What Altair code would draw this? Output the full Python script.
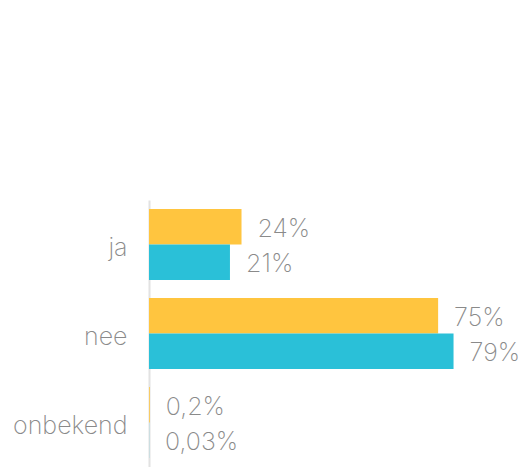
import altair as alt
import pandas as pd

categories = ["ja", "nee", "onbekend"]
series = ["eerste", "tweede"]
values_first = [24, 75, 0.2]
values_second = [21, 79, 0.03]
colors = ["#FFC53F", "#2AC0D8"]

rows = []
for cat, v1, v2 in zip(categories, values_first, values_second):
    for s, v in zip(series, (v1, v2)):
        rows.append({"categorie": cat, "reeks": s, "waarde": v,
                     "label": f"{v:g}".replace(".", ",") + "%"})
df = pd.DataFrame(rows)

FONT = "Inter"
GREY = "#8a8a8a"
SIZE = 25

y_enc = alt.Y("categorie:N", sort=categories, title=None,
              scale=alt.Scale(paddingInner=0.2, paddingOuter=0.1),
              axis=alt.Axis(labelFont=FONT, labelFontSize=SIZE, labelFontWeight=200,
                            labelColor=GREY, labelPadding=22, labelOffset=3, ticks=False,
                            domainColor="#e2e2e2", domainWidth=2))
x_enc = alt.X("waarde:Q", scale=alt.Scale(domain=[0, 96.5]), axis=None)
off = alt.YOffset("reeks:N", sort=series)
col = alt.Color("reeks:N", sort=series, scale=alt.Scale(domain=series, range=colors),
                legend=None)

bars = alt.Chart(df).mark_bar(size=35.5).encode(y=y_enc, x=x_enc, yOffset=off, color=col)
text = alt.Chart(df).mark_text(align="left", baseline="middle", dx=16, dy=2,
                               font=FONT, fontSize=SIZE, fontWeight=200,
                               color=GREY).encode(y=y_enc, x=x_enc, yOffset=off,
                                                  text="label:N")

chart = (bars + text).properties(
    width=372, height=267,
    background="white",
    autosize=alt.AutoSizeParams(type="none"),
    padding={"left": 149, "top": 200, "right": 0, "bottom": 0},
).configure_view(stroke=None)

chart.save("out.html", embed_options={"renderer": "svg", "actions": False})
